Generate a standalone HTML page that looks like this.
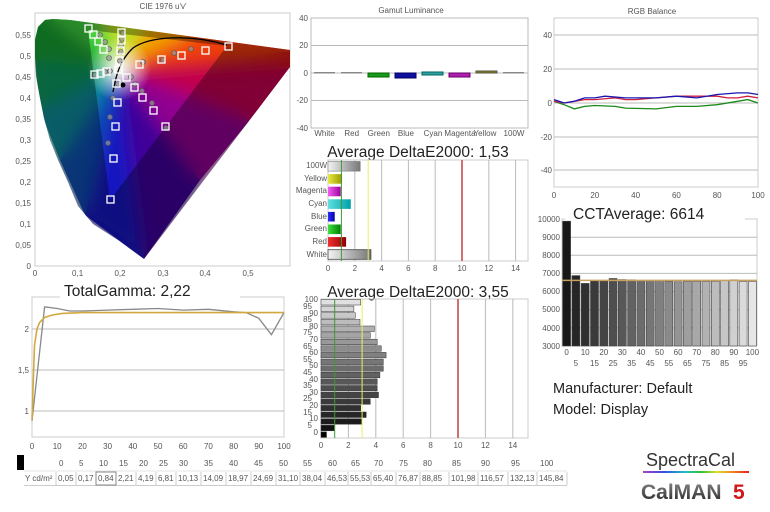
<!DOCTYPE html>
<html><head><meta charset="utf-8"><style>
html,body{margin:0;padding:0;background:#fff;}
svg{display:block;font-family:"Liberation Sans",sans-serif;}
.t{font-size:8px;fill:#555;}
.g{stroke:#bbb;stroke-width:1;fill:none;}
</style></head><body>
<svg width="770" height="512" viewBox="0 0 770 512" xmlns="http://www.w3.org/2000/svg">
<defs>
<clipPath id="hs"><path d="M144,259 L118,240 93,224 78,206 68,182 58,160 50,140 44,118 40,98 36,76 35,56 35,40 38,27 45,20 53,19 70,20 290,50 290,67 Z"/></clipPath>
<filter id="bl" x="-20%" y="-20%" width="140%" height="140%"><feGaussianBlur stdDeviation="8"/></filter>
<radialGradient id="wh" cx="119" cy="69" r="32" gradientUnits="userSpaceOnUse"><stop offset="0" stop-color="#fff" stop-opacity="0.95"/><stop offset="1" stop-color="#fff" stop-opacity="0"/></radialGradient>
<linearGradient id="gW" x1="0" x2="1"><stop offset="0" stop-color="#f4f4f4"/><stop offset="1" stop-color="#777"/></linearGradient>
<linearGradient id="gY" x1="0" x2="1"><stop offset="0" stop-color="#e8e840"/><stop offset="1" stop-color="#9a9a00"/></linearGradient>
<linearGradient id="gM" x1="0" x2="1"><stop offset="0" stop-color="#f060f0"/><stop offset="1" stop-color="#a000a0"/></linearGradient>
<linearGradient id="gC" x1="0" x2="1"><stop offset="0" stop-color="#60e0e0"/><stop offset="1" stop-color="#00a0a8"/></linearGradient>
<linearGradient id="gB" x1="0" x2="1"><stop offset="0" stop-color="#3030ff"/><stop offset="1" stop-color="#0000a0"/></linearGradient>
<linearGradient id="gG" x1="0" x2="1"><stop offset="0" stop-color="#40e040"/><stop offset="1" stop-color="#008000"/></linearGradient>
<linearGradient id="gR" x1="0" x2="1"><stop offset="0" stop-color="#f03030"/><stop offset="1" stop-color="#900000"/></linearGradient>
<linearGradient id="rb" x1="0" x2="1"><stop offset="0" stop-color="#b040c0"/><stop offset="0.2" stop-color="#3050e0"/><stop offset="0.4" stop-color="#20c0c0"/><stop offset="0.55" stop-color="#30c030"/><stop offset="0.7" stop-color="#e0e020"/><stop offset="0.85" stop-color="#f08020"/><stop offset="1" stop-color="#e02020"/></linearGradient>
<linearGradient id="cm" x1="0" y1="0" x2="0" y2="1"><stop offset="0" stop-color="#888"/><stop offset="1" stop-color="#222"/></linearGradient>
<g id="fan">
<polygon points="119,69 45,20 35,60" fill="#18a030"/>
<polygon points="119,69 35,60 40,110" fill="#109860"/>
<polygon points="119,69 40,110 60,160" fill="#0a8a98"/>
<polygon points="119,69 60,160 85,215" fill="#1050b0"/>
<polygon points="119,69 85,215 144,259" fill="#1818c0"/>
<polygon points="119,69 144,259 200,180" fill="#400098"/>
<polygon points="119,69 200,180 250,120" fill="#900090"/>
<polygon points="119,69 250,120 290,67" fill="#c00050"/>
<polygon points="119,69 290,67 300,50" fill="#d01010"/>
<polygon points="119,69 300,50 200,30" fill="#f04010"/>
<polygon points="119,69 200,30 150,20" fill="#f0a000"/>
<polygon points="119,69 150,20 100,12" fill="#c0e020"/>
<polygon points="119,69 100,12 40,12 45,20" fill="#40d040"/>
<polygon points="119,69 40,12 20,20 35,60" fill="#18a030"/>
</g>
</defs>

<!-- CIE -->
<text x="163" y="9" class="t" font-size="7" text-anchor="middle">CIE 1976 u'v'</text>
<rect x="35" y="13" width="255" height="253" fill="none" stroke="#ccc"/>
<g clip-path="url(#hs)">
<use href="#fan"/>
<g filter="url(#bl)"><use href="#fan"/></g>
<circle cx="119" cy="69" r="32" fill="url(#wh)"/>
<path fill-rule="evenodd" fill="#000" fill-opacity="0.33" d="M0,0 H300 V280 H0 Z M227,46 L88,30 L110,200 Z"/>
</g>
<g class="t" text-anchor="end">
<text x="31" y="269">0</text><text x="31" y="248">0,05</text><text x="31" y="227">0,1</text><text x="31" y="206">0,15</text><text x="31" y="185">0,2</text><text x="31" y="164">0,25</text><text x="31" y="143">0,3</text><text x="31" y="122">0,35</text><text x="31" y="101">0,4</text><text x="31" y="80">0,45</text><text x="31" y="59">0,5</text><text x="31" y="38">0,55</text>
</g>
<g class="t" text-anchor="middle">
<text x="35" y="276">0</text><text x="77.6" y="276">0,1</text><text x="120" y="276">0,2</text><text x="163" y="276">0,3</text><text x="205" y="276">0,4</text><text x="248" y="276">0,5</text>
</g>
<path d="M113,92 C116,75 120,60 133,48 C150,36 190,34 227,45" stroke="#000" stroke-width="1.3" fill="none"/>
<g fill="#999" fill-opacity="0.7" stroke="#555" stroke-width="0.6">
<circle cx="100" cy="35" r="2.5"/><circle cx="105" cy="42" r="2.5"/><circle cx="109" cy="49" r="2.5"/><circle cx="109" cy="58" r="2.5"/><circle cx="95" cy="75" r="2.5"/><circle cx="105" cy="72" r="2.5"/><circle cx="110" cy="71" r="2.5"/><circle cx="123" cy="33" r="2.5"/><circle cx="122" cy="39" r="2.5"/><circle cx="121" cy="45" r="2.5"/><circle cx="121" cy="52" r="2.5"/><circle cx="120" cy="61" r="2.5"/><circle cx="118" cy="84" r="2.5"/><circle cx="131" cy="77" r="2.5"/><circle cx="135" cy="84" r="2.5"/><circle cx="142" cy="91" r="2.5"/><circle cx="152" cy="103" r="2.5"/><circle cx="166" cy="128" r="2.5"/><circle cx="143" cy="62" r="2.5"/><circle cx="163" cy="60" r="2.5"/><circle cx="174" cy="53" r="2.5"/><circle cx="191" cy="49" r="2.5"/><circle cx="113" cy="98" r="2.5"/><circle cx="110" cy="117" r="2.5"/><circle cx="108" cy="143" r="2.5"/>
</g>
<circle cx="123" cy="85" r="2.5" fill="#000"/>
<g fill="none" stroke="#fff" stroke-width="1.3">
<rect x="85" y="25" width="7" height="7"/><rect x="90" y="31" width="7" height="7"/><rect x="95" y="38" width="7" height="7"/><rect x="100" y="46" width="7" height="7"/><rect x="118" y="29" width="7" height="7"/><rect x="118" y="37" width="7" height="7"/><rect x="117" y="47" width="7" height="7"/><rect x="116" y="57" width="7" height="7"/><rect x="115" y="66" width="7" height="7"/><rect x="91" y="71" width="7" height="7"/><rect x="97" y="70" width="7" height="7"/><rect x="103" y="68" width="7" height="7"/><rect x="113" y="80" width="7" height="7"/><rect x="123" y="74" width="7" height="7"/><rect x="136" y="61" width="7" height="7"/><rect x="158" y="56" width="7" height="7"/><rect x="178" y="52" width="7" height="7"/><rect x="202" y="47" width="7" height="7"/><rect x="225" y="43" width="7" height="7"/><rect x="131" y="84" width="7" height="7"/><rect x="139" y="94" width="7" height="7"/><rect x="150" y="107" width="7" height="7"/><rect x="162" y="123" width="7" height="7"/><rect x="114" y="99" width="7" height="7"/><rect x="112" y="123" width="7" height="7"/><rect x="110" y="155" width="7" height="7"/><rect x="107" y="196" width="7" height="7"/>
</g>

<!-- Gamut Luminance -->
<text x="411" y="13" class="t" font-size="7" text-anchor="middle">Gamut Luminance</text>
<rect x="311" y="18" width="217" height="110" fill="none" stroke="#bbb"/>
<line x1="311" y1="45.5" x2="528" y2="45.5" class="g"/><line x1="311" y1="73" x2="528" y2="73" class="g"/><line x1="311" y1="100.5" x2="528" y2="100.5" class="g"/>
<g class="t" text-anchor="end"><text x="308" y="21">40</text><text x="308" y="48">20</text><text x="308" y="76">0</text><text x="308" y="103">-20</text><text x="308" y="131">-40</text></g>
<rect x="314" y="72" width="21" height="1.5" fill="#888"/><rect x="341" y="72" width="21" height="1.5" fill="#888"/>
<rect x="368" y="73" width="21" height="4" fill="#1a9a1a" stroke="#060"/>
<rect x="395" y="73" width="21" height="5" fill="#1010a0" stroke="#006"/>
<rect x="422" y="72" width="21" height="3" fill="#30a0a0" stroke="#066"/>
<rect x="449" y="73" width="21" height="4" fill="#b020b0" stroke="#606"/>
<rect x="476" y="71" width="21" height="2" fill="#808020" stroke="#554"/>
<rect x="503" y="72" width="21" height="1.5" fill="#888"/>
<g class="t" text-anchor="middle"><text x="324.6" y="136">White</text><text x="351.7" y="136">Red</text><text x="378.8" y="136">Green</text><text x="405.9" y="136">Blue</text><text x="433" y="136">Cyan</text><text x="460" y="136">Magenta</text><text x="485" y="136">Yellow</text><text x="514" y="136">100W</text></g>

<!-- DeltaE 1 -->
<text x="418" y="157" font-size="15.5" fill="#222" text-anchor="middle">Average DeltaE2000: 1,53</text>
<rect x="328" y="160" width="200" height="101" fill="none" stroke="#ccc"/>
<g class="g"><line x1="354.8" y1="160" x2="354.8" y2="261"/><line x1="381.6" y1="160" x2="381.6" y2="261"/><line x1="408.4" y1="160" x2="408.4" y2="261"/><line x1="435.2" y1="160" x2="435.2" y2="261"/><line x1="488.8" y1="160" x2="488.8" y2="261"/><line x1="515.6" y1="160" x2="515.6" y2="261"/></g>
<rect x="328" y="161.5" width="32.2" height="9.6" fill="url(#gW)" stroke="#666" stroke-width="0.5"/>
<rect x="328" y="174.1" width="14.1" height="9.6" fill="url(#gY)"/>
<rect x="328" y="186.7" width="12.7" height="9.6" fill="url(#gM)"/>
<rect x="328" y="199.3" width="22.8" height="9.6" fill="url(#gC)"/>
<rect x="328" y="211.9" width="6.7" height="9.6" fill="url(#gB)"/>
<rect x="328" y="224.5" width="12.7" height="9.6" fill="url(#gG)"/>
<rect x="328" y="237.1" width="18.1" height="9.6" fill="url(#gR)"/>
<rect x="328" y="249.7" width="42.9" height="9.6" fill="url(#gW)" stroke="#444" stroke-width="0.8"/>
<line x1="341.4" y1="160" x2="341.4" y2="261" stroke="#3a9a3a"/>
<line x1="368.2" y1="160" x2="368.2" y2="261" stroke="#eeee60"/>
<line x1="462" y1="160" x2="462" y2="261" stroke="#d07070" stroke-width="2"/>
<g class="t" text-anchor="end"><text x="327" y="168">100W</text><text x="327" y="181">Yellow</text><text x="327" y="193">Magenta</text><text x="327" y="206">Cyan</text><text x="327" y="219">Blue</text><text x="327" y="231">Green</text><text x="327" y="244">Red</text><text x="327" y="257">White</text></g>
<g class="t" text-anchor="middle"><text x="328" y="271">0</text><text x="354.8" y="271">2</text><text x="381.6" y="271">4</text><text x="408.4" y="271">6</text><text x="435.2" y="271">8</text><text x="462" y="271">10</text><text x="488.8" y="271">12</text><text x="515.6" y="271">14</text></g>

<!-- DeltaE 2 -->
<text x="418" y="297" font-size="15.5" fill="#222" text-anchor="middle">Average DeltaE2000: 3,55</text>
<rect x="321" y="299" width="207" height="139" fill="none" stroke="#ccc"/>
<g class="g"><line x1="348.4" y1="299" x2="348.4" y2="438"/><line x1="375.8" y1="299" x2="375.8" y2="438"/><line x1="403.2" y1="299" x2="403.2" y2="438"/><line x1="430.6" y1="299" x2="430.6" y2="438"/><line x1="485.4" y1="299" x2="485.4" y2="438"/><line x1="512.8" y1="299" x2="512.8" y2="438"/></g>
<g stroke="#333" stroke-width="0.5">
<rect x="321" y="299.5" width="39.7" height="5.5" fill="#e0e0e0"/>
<rect x="321" y="306.1" width="32.9" height="5.5" fill="#d4d4d4"/>
<rect x="321" y="312.7" width="34.3" height="5.5" fill="#c8c8c8"/>
<rect x="321" y="319.4" width="39" height="5.5" fill="#bcbcbc"/>
<rect x="321" y="326" width="53.4" height="5.5" fill="#b0b0b0"/>
<rect x="321" y="332.6" width="49.3" height="5.5" fill="#a4a4a4"/>
<rect x="321" y="339.2" width="56.2" height="5.5" fill="#989898"/>
<rect x="321" y="345.8" width="60.3" height="5.5" fill="#8c8c8c"/>
<rect x="321" y="352.4" width="65.1" height="5.5" fill="#808080"/>
<rect x="321" y="359.1" width="62.3" height="5.5" fill="#767676"/>
<rect x="321" y="365.7" width="62.3" height="5.5" fill="#6c6c6c"/>
<rect x="321" y="372.3" width="58.9" height="5.5" fill="#626262"/>
<rect x="321" y="378.9" width="56.2" height="5.5" fill="#585858"/>
<rect x="321" y="385.5" width="56.2" height="5.5" fill="#4e4e4e"/>
<rect x="321" y="392.2" width="57.5" height="5.5" fill="#444"/>
<rect x="321" y="398.8" width="49.3" height="5.5" fill="#3a3a3a"/>
<rect x="321" y="405.4" width="39.7" height="5.5" fill="#303030"/>
<rect x="321" y="412" width="45.2" height="5.5" fill="#262626"/>
<rect x="321" y="418.7" width="41.1" height="5.5" fill="#1c1c1c"/>
<rect x="321" y="425.3" width="13.3" height="5.5" fill="#121212"/>
<rect x="321" y="431.9" width="5.5" height="5.5" fill="#000"/>
</g>
<line x1="334.7" y1="299" x2="334.7" y2="438" stroke="#3a9a3a"/>
<line x1="362.1" y1="299" x2="362.1" y2="438" stroke="#eeee60"/>
<line x1="458" y1="299" x2="458" y2="438" stroke="#d07070" stroke-width="2"/>
<g class="t" text-anchor="end">
<text x="318" y="302">100</text><text x="312" y="309">95</text><text x="318" y="316">90</text><text x="312" y="322">85</text><text x="318" y="329">80</text><text x="312" y="335">75</text><text x="318" y="342">70</text><text x="312" y="349">65</text><text x="318" y="355">60</text><text x="312" y="362">55</text><text x="318" y="368">50</text><text x="312" y="375">45</text><text x="318" y="382">40</text><text x="312" y="388">35</text><text x="318" y="395">30</text><text x="312" y="401">25</text><text x="318" y="408">20</text><text x="312" y="415">15</text><text x="318" y="421">10</text><text x="312" y="428">5</text><text x="318" y="435">0</text>
</g>
<g class="t" text-anchor="middle"><text x="321" y="448">0</text><text x="348.4" y="448">2</text><text x="375.8" y="448">4</text><text x="403.2" y="448">6</text><text x="430.6" y="448">8</text><text x="458" y="448">10</text><text x="485.4" y="448">12</text><text x="512.8" y="448">14</text></g>

<!-- Gamma -->
<rect x="32" y="297" width="252" height="140" fill="none" stroke="#ccc"/>
<rect x="60" y="290" width="180" height="10" fill="#fff"/>
<text x="64" y="296" font-size="15.5" fill="#222">TotalGamma: 2,22</text>
<line x1="32" y1="329" x2="284" y2="329" class="g"/><line x1="32" y1="370" x2="284" y2="370" class="g"/><line x1="32" y1="411" x2="284" y2="411" class="g"/>
<g class="t" text-anchor="end"><text x="29" y="332">2</text><text x="29" y="373">1,5</text><text x="29" y="414">1</text></g>
<polyline fill="none" stroke="#888" stroke-width="1.3" points="32,420.8 44.6,306.9 57.2,308.5 69.8,311 82.4,311 107.6,310.1 132.8,309.3 158,308.5 183.2,310.1 208.4,309.3 233.6,311.8 246.2,312.6 258.8,318.3 271.4,334.7 284,312.6"/>
<polyline fill="none" stroke="#d4a840" stroke-width="1.6" points="32,419.2 34.5,345.4 37,329 39.6,322.4 44.6,317.5 52.2,315 62.2,313.4 82.4,312.6 284,312.6"/>
<g class="t" text-anchor="middle"><text x="32" y="449">0</text><text x="57.2" y="449">10</text><text x="82.4" y="449">20</text><text x="107.6" y="449">30</text><text x="132.8" y="449">40</text><text x="158" y="449">50</text><text x="183.2" y="449">60</text><text x="208.4" y="449">70</text><text x="233.6" y="449">80</text><text x="258.8" y="449">90</text><text x="284" y="449">100</text></g>

<!-- RGB Balance -->
<text x="652" y="14" class="t" font-size="7" text-anchor="middle">RGB Balance</text>
<rect x="554" y="18" width="204" height="169" fill="none" stroke="#ccc"/>
<g class="g"><line x1="554" y1="35" x2="758" y2="35"/><line x1="554" y1="69" x2="758" y2="69"/><line x1="554" y1="103" x2="758" y2="103"/><line x1="554" y1="137" x2="758" y2="137"/><line x1="554" y1="170" x2="758" y2="170"/></g>
<g class="t" text-anchor="end"><text x="552" y="38">40</text><text x="552" y="72">20</text><text x="552" y="106">0</text><text x="552" y="140">-20</text><text x="552" y="173">-40</text></g>
<g class="t" text-anchor="middle"><text x="554" y="198">0</text><text x="594.8" y="198">20</text><text x="635.6" y="198">40</text><text x="676.4" y="198">60</text><text x="717.2" y="198">80</text><text x="758" y="198">100</text></g>
<polyline fill="none" stroke="#1a8a1a" stroke-width="1.3" points="554,101.3 564.2,104.7 574.4,108.9 584.6,106.4 594.8,105.5 615.2,106.4 625.4,108.1 656,108.9 676.4,106.4 696.8,106.4 717.2,104.7 737.6,101.3 747.8,99.6 758,103"/>
<polyline fill="none" stroke="#d02040" stroke-width="1.3" points="554,101.3 564.2,103 574.4,101.3 584.6,99.6 594.8,99.6 615.2,97.9 625.4,99.6 635.6,99.6 656,97.9 676.4,96.2 696.8,96.2 717.2,96.2 727.4,97.9 737.6,97.9 747.8,96.2 758,97.9"/>
<polyline fill="none" stroke="#1818b0" stroke-width="1.3" points="554,99.6 564.2,103 574.4,101.3 584.6,97.9 594.8,97.9 605,96.2 625.4,97.9 635.6,97.9 656,97.9 676.4,96.2 696.8,97.9 717.2,94.5 737.6,92.9 747.8,92.9 758,94.5"/>

<!-- CCT -->
<rect x="562" y="219" width="195" height="127" fill="none" stroke="#ccc"/>
<rect x="565" y="208" width="180" height="13" fill="#fff"/>
<text x="573" y="219" font-size="15.5" fill="#222">CCTAverage: 6614</text>
<g class="g"><line x1="562" y1="237.2" x2="757" y2="237.2"/><line x1="562" y1="255.3" x2="757" y2="255.3"/><line x1="562" y1="273.4" x2="757" y2="273.4"/><line x1="562" y1="291.6" x2="757" y2="291.6"/><line x1="562" y1="309.7" x2="757" y2="309.7"/><line x1="562" y1="327.9" x2="757" y2="327.9"/></g>
<g class="t" text-anchor="end" font-size="7"><text x="560" y="222">10000</text><text x="560" y="240">9000</text><text x="560" y="258">8000</text><text x="560" y="276">7000</text><text x="560" y="294">6000</text><text x="560" y="312">5000</text><text x="560" y="331">4000</text><text x="560" y="349">3000</text></g>
<g stroke="#444" stroke-width="0.6">
<rect x="562.6" y="221.2" width="8" height="124.8" fill="#181818"/>
<rect x="571.9" y="275.6" width="8" height="70.4" fill="#262626"/>
<rect x="581.2" y="283.4" width="8" height="62.6" fill="#303030"/>
<rect x="590.5" y="280.7" width="8" height="65.3" fill="#3a3a3a"/>
<rect x="599.8" y="280.7" width="8" height="65.3" fill="#444"/>
<rect x="609.1" y="278.5" width="8" height="67.5" fill="#4e4e4e"/>
<rect x="618.3" y="279.6" width="8" height="66.4" fill="#585858"/>
<rect x="627.6" y="279.8" width="8" height="66.2" fill="#626262"/>
<rect x="636.9" y="280.3" width="8" height="65.7" fill="#6c6c6c"/>
<rect x="646.2" y="280.5" width="8" height="65.5" fill="#767676"/>
<rect x="655.5" y="280.7" width="8" height="65.3" fill="#808080"/>
<rect x="664.8" y="281.2" width="8" height="64.8" fill="#8a8a8a"/>
<rect x="674.1" y="281.8" width="8" height="64.2" fill="#949494"/>
<rect x="683.4" y="281.2" width="8" height="64.8" fill="#9e9e9e"/>
<rect x="692.7" y="281.2" width="8" height="64.8" fill="#a8a8a8"/>
<rect x="702" y="281.2" width="8" height="64.8" fill="#b2b2b2"/>
<rect x="711.3" y="281.2" width="8" height="64.8" fill="#bcbcbc"/>
<rect x="720.6" y="280.7" width="8" height="65.3" fill="#c6c6c6"/>
<rect x="729.8" y="279.8" width="8" height="66.2" fill="#d0d0d0"/>
<rect x="739.1" y="281.4" width="8" height="64.6" fill="#dadada"/>
<rect x="748.4" y="281.4" width="8" height="64.6" fill="#e6e6e6"/>
</g>
<line x1="562" y1="280.4" x2="757" y2="280.4" stroke="#c8a060" stroke-width="1.5"/>
<g class="t" text-anchor="middle">
<text x="566.6" y="355">0</text><text x="585.2" y="355">10</text><text x="603.8" y="355">20</text><text x="622.3" y="355">30</text><text x="640.9" y="355">40</text><text x="659.5" y="355">50</text><text x="678.1" y="355">60</text><text x="696.7" y="355">70</text><text x="715.3" y="355">80</text><text x="733.8" y="355">90</text><text x="752.4" y="355">100</text>
<text x="575.9" y="366">5</text><text x="594.5" y="366">15</text><text x="613.1" y="366">25</text><text x="631.6" y="366">35</text><text x="650.2" y="366">45</text><text x="668.8" y="366">55</text><text x="687.4" y="366">65</text><text x="706" y="366">75</text><text x="724.6" y="366">85</text><text x="743.1" y="366">95</text>
</g>
<text x="553" y="393" font-size="14.5" fill="#222">Manufacturer: Default</text>
<text x="553" y="414" font-size="14.5" fill="#222">Model: Display</text>

<!-- Table -->
<rect x="17" y="455" width="7" height="15" fill="#000"/>
<g class="t" font-size="7.5" fill="#777">
<text x="59" y="466">0</text><text x="79" y="466">5</text><text x="99" y="466">10</text><text x="119" y="466">15</text><text x="139" y="466">20</text><text x="159" y="466">25</text><text x="179" y="466">30</text><text x="204" y="466">35</text><text x="229" y="466">40</text><text x="254" y="466">45</text><text x="279" y="466">50</text><text x="303" y="466">55</text><text x="328" y="466">60</text><text x="351" y="466">65</text><text x="374" y="466">70</text><text x="399" y="466">75</text><text x="423" y="466">80</text><text x="452" y="466">85</text><text x="481" y="466">90</text><text x="511" y="466">95</text><text x="540" y="466">100</text>
</g>
<g class="t" font-size="7.5" fill="#444">
<text x="25" y="481">Y cd/m²</text>
<text x="58" y="481">0,05</text><text x="78" y="481">0,17</text><text x="98" y="481">0,84</text><text x="118" y="481">2,21</text><text x="138" y="481">4,19</text><text x="158" y="481">6,81</text><text x="178" y="481">10,13</text><text x="203" y="481">14,09</text><text x="228" y="481">18,97</text><text x="253" y="481">24,69</text><text x="278" y="481">31,10</text><text x="302" y="481">38,04</text><text x="327" y="481">46,53</text><text x="350" y="481">55,53</text><text x="373" y="481">65,40</text><text x="398" y="481">76,87</text><text x="422" y="481">88,85</text><text x="451" y="481">101,98</text><text x="480" y="481">116,57</text><text x="510" y="481">132,13</text><text x="539" y="481">145,84</text>
</g>
<g stroke="#ccc" stroke-width="1">
<line x1="24" y1="485.5" x2="567" y2="485.5"/>
<line x1="24" y1="471" x2="567" y2="471" stroke="#e6e6e6"/>
<line x1="56" y1="472" x2="56" y2="485"/><line x1="76" y1="472" x2="76" y2="485"/><line x1="96" y1="472" x2="96" y2="485"/><line x1="116" y1="472" x2="116" y2="485"/><line x1="136" y1="472" x2="136" y2="485"/><line x1="156" y1="472" x2="156" y2="485"/><line x1="176" y1="472" x2="176" y2="485"/><line x1="201" y1="472" x2="201" y2="485"/><line x1="226" y1="472" x2="226" y2="485"/><line x1="251" y1="472" x2="251" y2="485"/><line x1="276" y1="472" x2="276" y2="485"/><line x1="300" y1="472" x2="300" y2="485"/><line x1="325" y1="472" x2="325" y2="485"/><line x1="348" y1="472" x2="348" y2="485"/><line x1="371" y1="472" x2="371" y2="485"/><line x1="396" y1="472" x2="396" y2="485"/><line x1="420" y1="472" x2="420" y2="485"/><line x1="449" y1="472" x2="449" y2="485"/><line x1="478" y1="472" x2="478" y2="485"/><line x1="508" y1="472" x2="508" y2="485"/><line x1="537" y1="472" x2="537" y2="485"/><line x1="567" y1="472" x2="567" y2="485"/>
</g>
<rect x="96" y="472" width="20" height="13" fill="none" stroke="#888"/>

<!-- Logo -->
<text x="646" y="466" font-size="18" fill="#333">SpectraCal</text>
<rect x="643" y="471" width="106" height="2" fill="url(#rb)"/>
<text x="641" y="499" font-size="21" font-weight="bold" fill="url(#cm)">CalMAN</text>
<text x="733" y="499" font-size="21" font-weight="bold" fill="#d01818">5</text>
</svg>
</body></html>
